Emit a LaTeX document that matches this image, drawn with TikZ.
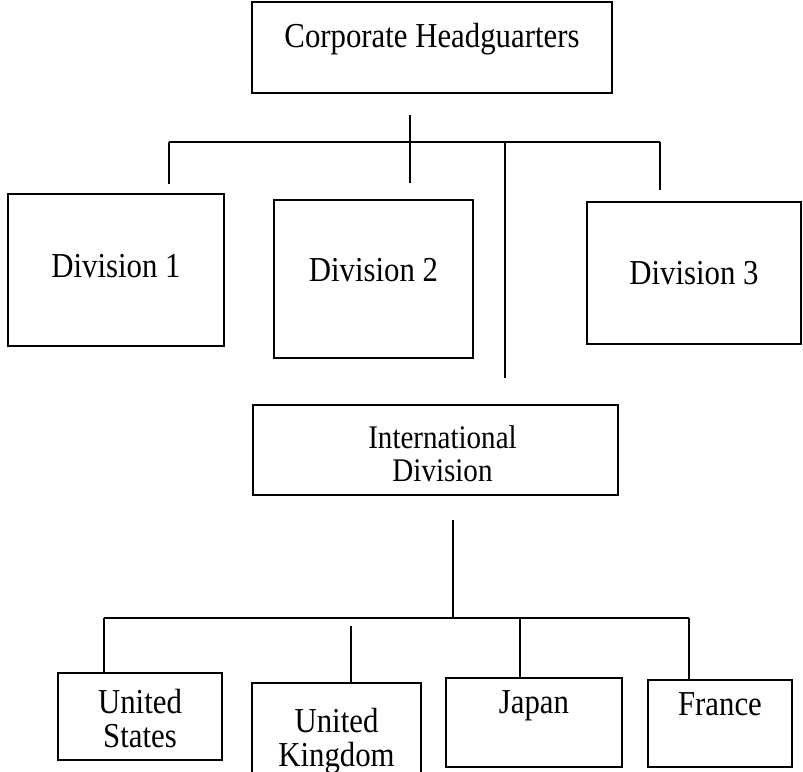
\documentclass[tikz,border=0pt]{standalone}
\usepackage{fontspec}
\setmainfont{Liberation Serif}[FakeStretch=0.88]
\begin{document}
\begin{tikzpicture}[x=1pt,y=-1pt,
  box/.style={draw=black, line width=1.5pt, rectangle, inner sep=0pt, align=center,
              font=\fontsize{35}{34}\selectfont},
  conn/.style={draw=black, line width=1.6pt},
  tb/.style 2 args={text height=#1, text depth=#2}]
\clip (0,0) rectangle (803,771);
\fill[white] (0,0) rectangle (803,771);

% boxes
\node[box, minimum width=360, minimum height=91, tb={22pt}{23pt}] (hq) at (432,47.5) {Corporate Headguarters};
\node[box, minimum width=216, minimum height=152, tb={21pt}{7pt}] (d1) at (116,270) {Division 1};
\node[box, minimum width=199, minimum height=158, tb={21pt}{17pt}] (d2) at (373.5,279) {Division 2};
\node[box, minimum width=214, minimum height=142, tb={22pt}{0pt}] (d3) at (694,273) {Division 3};
\node[box, minimum width=365, minimum height=90, font=\fontsize{33}{33}\selectfont] (intl) at (435.5,450)
  {\hspace*{14pt}\rule{0pt}{31pt}International\\\hspace*{14pt}Division};
\node[box, minimum width=164, minimum height=87] (us) at (140,716.5) {\rule{0pt}{29pt}United\\States};
\node[box, minimum width=169, minimum height=103] (uk) at (336.5,734.5) {\rule{0pt}{37pt}United\\Kingdom};
\node[box, minimum width=176, minimum height=89, tb={22pt}{41pt}] (jp) at (534,722.5) {Japan};
\node[box, minimum width=144, minimum height=87, tb={22pt}{39pt}] (fr) at (720,723.5) {France};

% upper connectors
\coordinate (hqs) at (410,115);
\coordinate (hqe) at (410,183);
\coordinate (bl) at (169,142);
\coordinate (br) at (660,142);
\coordinate (d1e) at (169,184);
\coordinate (d3e) at (660,190);
\coordinate (ins) at (505,142);
\coordinate (ine) at (505,378);
\draw[conn] (bl) -- (br);
\draw[conn] (hqs) -- (hqe);
\draw[conn] (bl) -- (d1e);
\draw[conn] (br) -- (d3e);
\draw[conn] (ins) -- (ine);

% lower connectors
\coordinate (is) at (453,520);
\coordinate (ie) at (453,618);
\coordinate (ll) at (104,618);
\coordinate (lr) at (689,618);
\coordinate (use) at (104,673);
\coordinate (uks) at (351,626);
\coordinate (uke) at (351,683);
\coordinate (jps) at (520,618);
\coordinate (jpe) at (520,678);
\coordinate (fre) at (689,680);
\draw[conn] (is) -- (ie);
\draw[conn] (ll) -- (lr);
\draw[conn] (ll) -- (use);
\draw[conn] (uks) -- (uke);
\draw[conn] (jps) -- (jpe);
\draw[conn] (lr) -- (fre);
\end{tikzpicture}
\end{document}
